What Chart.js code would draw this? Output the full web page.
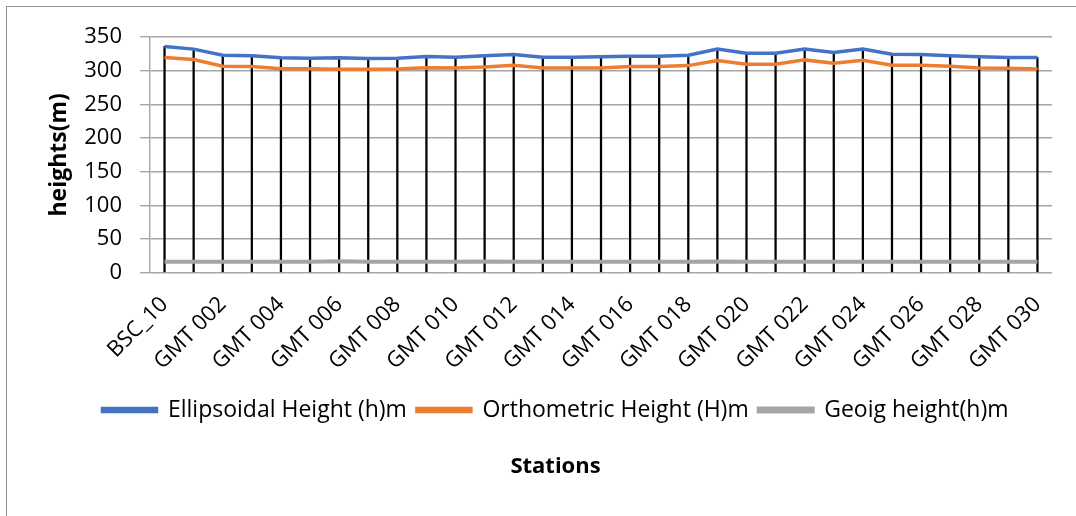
<!DOCTYPE html>
<html>
<head>
<meta charset="utf-8">
<script src="https://cdn.jsdelivr.net/npm/chart.js"></script>
<style>
  html, body { margin: 0; padding: 0; background: #fff; }
  body { width: 1076px; height: 516px; overflow: hidden; position: relative; }
  .frame { position: absolute; left: 6px; top: 6px; width: 1200px; height: 600px; border: 1.5px solid #8f8f8f; }
  #wrap { position: absolute; left: 0; top: 0; width: 1076px; height: 516px; }
</style>
</head>
<body>
<div class="frame"></div>
<div id="wrap"><canvas id="chart"></canvas></div>
<script>
// stations along the x axis
var stations = ['BSC_10', 'GMT 001', 'GMT 002', 'GMT 003', 'GMT 004', 'GMT 005', 'GMT 006', 'GMT 007',
  'GMT 008', 'GMT 009', 'GMT 010', 'GMT 011', 'GMT 012', 'GMT 013', 'GMT 014', 'GMT 015', 'GMT 016',
  'GMT 017', 'GMT 018', 'GMT 019', 'GMT 020', 'GMT 021', 'GMT 022', 'GMT 023', 'GMT 024', 'GMT 025',
  'GMT 026', 'GMT 027', 'GMT 028', 'GMT 029', 'GMT 030'];

var ellipsoidal = [336, 332, 323, 322, 319, 318.5, 319, 318, 318.5, 321, 320, 322, 324, 320, 320, 320.5,
  321.5, 321.5, 323, 332, 326, 326, 332, 327, 332, 324.5, 324, 322, 320.5, 319.5, 319.5];

var orthometric = [319.5, 316.5, 306.5, 306, 303, 303, 302, 302, 302.5, 304.5, 304, 305.5, 308, 304, 304, 304,
  306, 306, 307.5, 315, 309.5, 309.5, 316, 311, 315.5, 308, 308, 306.5, 304, 303.5, 302.5];

var geoid = [16, 16, 16, 16, 16, 16, 17, 16, 16, 16, 16, 16.5, 16, 16, 16, 16,
  16, 16, 16, 16.5, 16, 16, 16, 16, 16, 16, 16, 16, 16, 16, 16];

var yTicks = [0, 50, 100, 150, 200, 250, 300, 350];

var fontFam = '"Open Sans", Lato, sans-serif';

var ctx = document.getElementById('chart').getContext('2d');

var myChart = new Chart(ctx, {
  type: 'line',
  data: {
    labels: stations,
    datasets: [{
      label: 'Ellipsoidal Height (h)m',
      data: ellipsoidal,
      borderColor: '#4472c4',
      backgroundColor: '#4472c4',
      borderWidth: 3.5,
      pointRadius: 0,
      order: 1
    }, {
      label: 'Orthometric Height (H)m',
      data: orthometric,
      borderColor: '#ed7d31',
      backgroundColor: '#ed7d31',
      borderWidth: 3.5,
      pointRadius: 0,
      order: 2
    }, {
      label: 'Geoig height(h)m',
      data: geoid,
      borderColor: '#a5a5a5',
      backgroundColor: '#a5a5a5',
      borderWidth: 4,
      pointRadius: 0,
      order: 3
    }, {
      //drop lines from the top series down to the axis
      type: 'bar',
      label: 'drop',
      data: ellipsoidal,
      backgroundColor: '#000',
      barThickness: 1.6,
      order: 4
    }]
  },
  options: {
    responsive: true,
    maintainAspectRatio: false,
    animation: false,
    layout: {
      padding: { left: 59, right: 24, top: 37, bottom: 36 }
    },
    scales: {
      x: {
        grid: { display: false },
        border: { display: false },
        ticks: {
          autoSkip: false,
          maxRotation: 45,
          minRotation: 45,
          padding: 11,
          color: '#000',
          font: { family: fontFam, size: 22 },
          callback: function(val, i) {
            return i % 2 ? '' : this.getLabelForValue(val);
          }
        },
        afterFit: function(scale) {
          scale.height = 116;
        }
      },
      y: {
        min: 0,
        max: 350,
        border: { display: true, color: '#a6a6a6', width: 1.4 },
        grid: {
          color: '#a6a6a6',
          lineWidth: 1.4,
          tickLength: 10
        },
        afterBuildTicks: function(scale) {
          scale.ticks = yTicks.map(function(v) { return { value: v }; });
        },
        ticks: {
          padding: 18,
          color: '#000',
          font: { family: fontFam, size: 22 }
        },
        title: {
          display: true,
          text: 'heights(m)',
          color: '#000',
          padding: { top: -13, bottom: 0 },
          font: { family: fontFam, size: 23, weight: 'bold' }
        },
        afterFit: function(scale) {
          scale.width = 91;
        }
      }
    },
    plugins: {
      tooltip: { enabled: false },
      legend: {
        position: 'bottom',
        labels: {
          boxWidth: 54,
          boxHeight: 3,
          padding: 10,
          color: '#000',
          font: { family: fontFam, size: 23 },
          filter: function(item) {
            return item.datasetIndex < 3;
          }
        }
      },
      title: {
        display: true,
        position: 'bottom',
        text: 'Stations',
        color: '#000',
        padding: { top: 22, bottom: 0 },
        font: { family: fontFam, size: 22, weight: 'bold' }
      }
    }
  }
});
</script>
</body>
</html>
